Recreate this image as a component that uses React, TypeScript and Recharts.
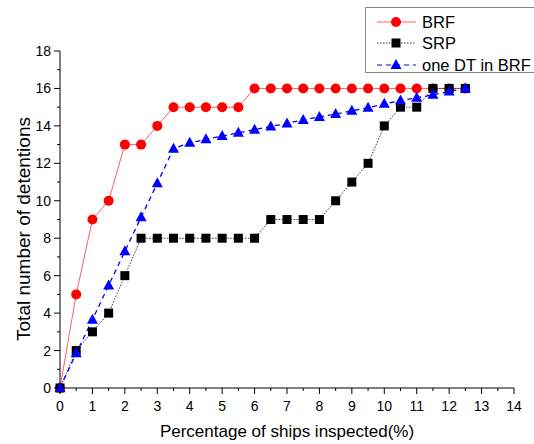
// App.tsx – detentions vs. share of ships inspected (BRF / SRP / one DT in BRF)
import React from 'react';
import { LineChart, Line, XAxis, YAxis, Legend, Label } from 'recharts';

const pct = [0, 0.5, 1, 1.5, 2, 2.5, 3, 3.5, 4, 4.5, 5, 5.5, 6, 6.5, 7, 7.5, 8, 8.5, 9, 9.5, 10, 10.5, 11, 11.5, 12, 12.5];
const brf = [0, 5, 9, 10, 13, 13, 14, 15, 15, 15, 15, 15, 16, 16, 16, 16, 16, 16, 16, 16, 16, 16, 16, 16, 16, 16];
const srp = [0, 2, 3, 4, 6, 8, 8, 8, 8, 8, 8, 8, 8, 9, 9, 9, 9, 10, 11, 12, 14, 15, 15, 16, 16, 16];
const oneDt = [0, 1.85, 3.65, 5.48, 7.3, 9.12, 10.93, 12.78, 13.1, 13.28, 13.46, 13.63, 13.8, 13.97, 14.13, 14.32, 14.48, 14.63, 14.81, 14.97, 15.18, 15.35, 15.5, 15.66, 15.84, 16.0];

const xTicks = [0, 0.5, 1, 1.5, 2, 2.5, 3, 3.5, 4, 4.5, 5, 5.5, 6, 6.5, 7, 7.5, 8, 8.5, 9, 9.5, 10, 10.5, 11, 11.5, 12, 12.5, 13, 13.5, 14];
const yTicks = [0, 1, 2, 3, 4, 5, 6, 7, 8, 9, 10, 11, 12, 13, 14, 15, 16, 17, 18];

const data = pct.map((p, i) => ({ p, brf: brf[i], srp: srp[i], oneDt: oneDt[i] }));

const FONT = '"Liberation Sans", Arial, sans-serif';

const XTick = (props: any) => {
  const { x, y, payload } = props;
  const major = Number.isInteger(payload.value);
  return (
    <g>
      <line x1={x} y1={y} x2={x} y2={y + (major ? 6 : 3)} stroke="#000" />
      {major && (
        <text x={x} y={y + 23} textAnchor="middle" fontSize={14} fontFamily={FONT} fill="#000">
          {payload.value}
        </text>
      )}
    </g>
  );
};

const YTick = (props: any) => {
  const { x, y, payload } = props;
  const major = payload.value % 2 === 0;
  return (
    <g>
      <line x1={x - (major ? 6 : 3)} y1={y} x2={x} y2={y} stroke="#000" />
      {major && (
        <text x={x - 9} y={y + 5} textAnchor="end" fontSize={14} fontFamily={FONT} fill="#000">
          {payload.value}
        </text>
      )}
    </g>
  );
};

const Square = (props: any) => {
  const { cx, cy, index } = props;
  return <rect key={'s' + index} x={cx - 4.5} y={cy - 4.5} width={9} height={9} fill="#000" />;
};

const Triangle = (props: any) => {
  const { cx, cy, index } = props;
  return (
    <polygon
      key={'t' + index}
      points={`${cx},${cy - 6} ${cx - 5.5},${cy + 4} ${cx + 5.5},${cy + 4}`}
      fill="#0000ff"
    />
  );
};

const legendRows = [
  { name: 'BRF', color: '#ff6060', dash: undefined, marker: 'circle' },
  { name: 'SRP', color: '#333', dash: '1.5 1.5', marker: 'square' },
  { name: 'one DT in BRF', color: '#0000ff', dash: '5 4', marker: 'triangle' },
];

const LegendBox = () => (
  <div
    style={{
      border: '1px solid #888',
      background: '#fff',
      width: 180,
      height: 66,
      boxSizing: 'border-box',
      paddingTop: 3,
    }}
  >
    {legendRows.map((r) => (
      <div key={r.name} style={{ display: 'flex', alignItems: 'center', height: 21.5 }}>
        <svg width={52} height={20} style={{ marginLeft: 4 }}>
          <line x1={7} y1={10} x2={46} y2={10} stroke={r.color} strokeWidth={1} strokeDasharray={r.dash} />
          {r.marker === 'circle' && <circle cx={26} cy={10} r={5} fill="#ff0000" />}
          {r.marker === 'square' && <rect x={21.5} y={5.5} width={9} height={9} fill="#000" />}
          {r.marker === 'triangle' && <polygon points="26,4 20.5,14 31.5,14" fill="#0000ff" />}
        </svg>
        <span style={{ fontFamily: FONT, fontSize: 16.5, color: '#000', lineHeight: '20px', whiteSpace: 'nowrap' }}>
          {r.name}
        </span>
      </div>
    ))}
  </div>
);

export default function App() {
  return (
    <div style={{ position: 'absolute', left: 0, top: 0, width: 534, height: 444, overflow: 'hidden', background: '#fff' }}>
      <LineChart width={534} height={444} data={data} margin={{ top: 51, right: 20, left: 0, bottom: 0 }}>
        <XAxis
          dataKey="p"
          type="number"
          domain={[0, 14]}
          ticks={xTicks}
          interval={0}
          tickSize={0}
          tickMargin={0}
          tick={<XTick />}
          height={56}
          axisLine={{ stroke: '#000' }}
        >
          <Label
            content={() => (
              <text x={287} y={437} textAnchor="middle" fontSize={17} fontFamily={FONT} fill="#000">
                Percentage of ships inspected(%)
              </text>
            )}
          />
        </XAxis>
        <YAxis
          type="number"
          domain={[0, 18]}
          ticks={yTicks}
          interval={0}
          tickSize={0}
          tickMargin={0}
          tick={<YTick />}
          width={60}
          axisLine={{ stroke: '#000' }}
        >
          <Label
            content={() => (
              <text
                x={30}
                y={229}
                transform="rotate(-90 30 229)"
                textAnchor="middle"
                fontSize={19}
                fontFamily={FONT}
                fill="#000"
              >
                Total number of detentions
              </text>
            )}
          />
        </YAxis>
        <Legend
          layout="vertical"
          align="center"
          verticalAlign="middle"
          content={<LegendBox />}
          wrapperStyle={{ left: 365, top: 7, width: 180 }}
        />
        <Line
          dataKey="brf"
          stroke="#ff6060"
          strokeWidth={1}
          dot={{ r: 5, fill: '#ff0000', stroke: 'none' }}
          isAnimationActive={false}
        />
        <Line
          dataKey="srp"
          stroke="#333"
          strokeWidth={1}
          strokeDasharray="1.5 1.5"
          dot={<Square />}
          isAnimationActive={false}
        />
        <Line
          dataKey="oneDt"
          stroke="#0000ff"
          strokeWidth={1.3}
          strokeDasharray="5 4"
          dot={<Triangle />}
          isAnimationActive={false}
        />
      </LineChart>
    </div>
  );
}
